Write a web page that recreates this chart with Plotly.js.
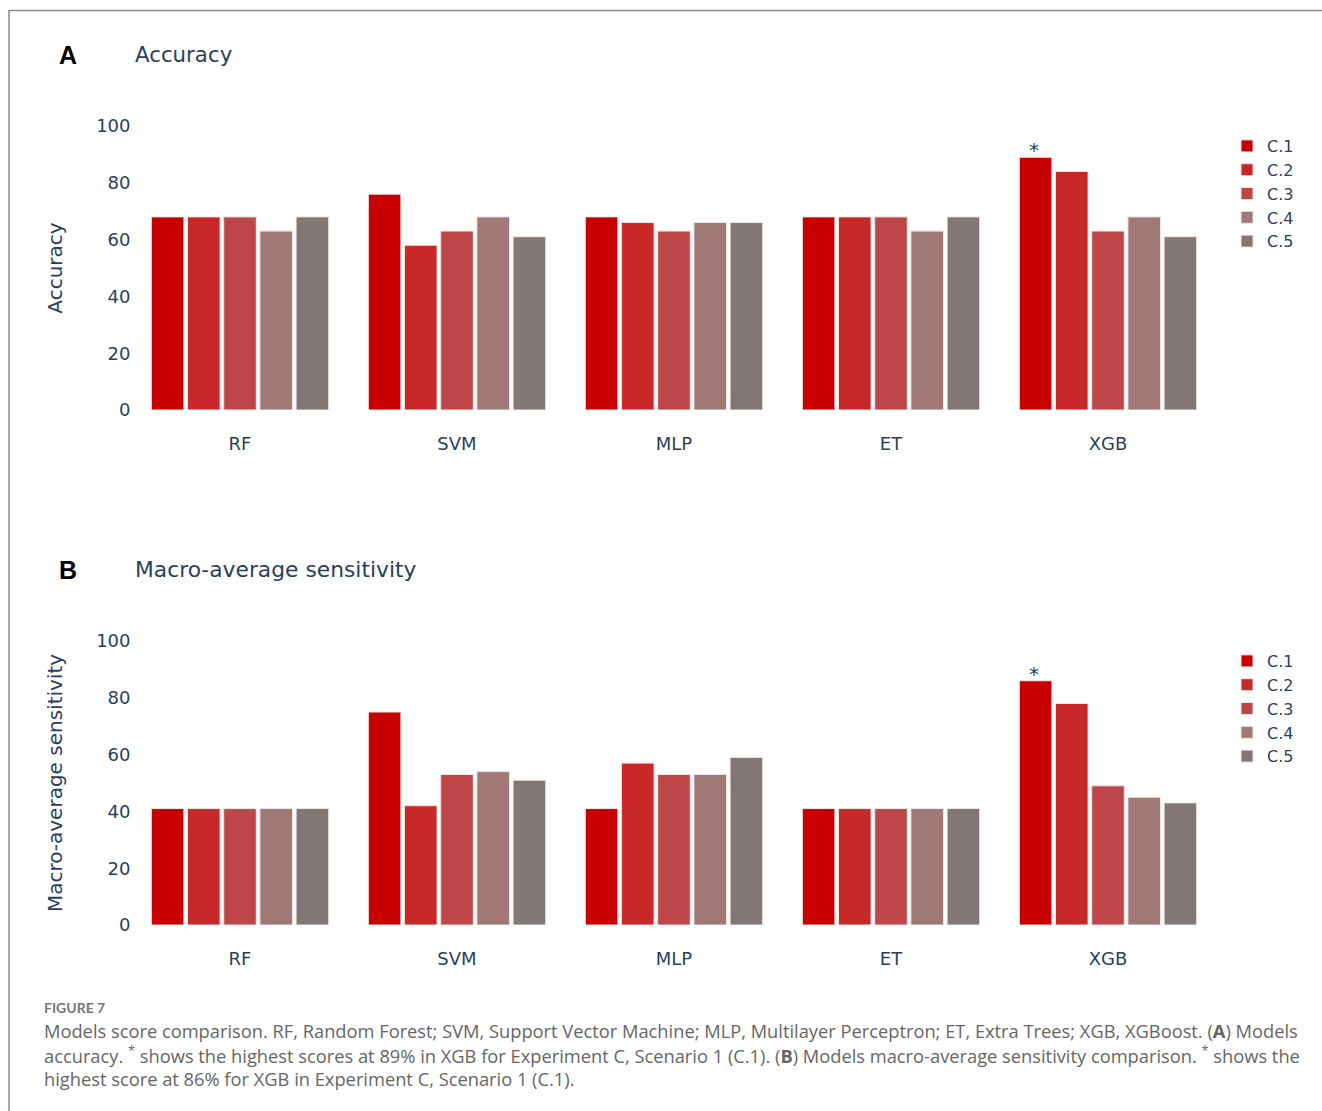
<!DOCTYPE html>
<html>
<head>
<meta charset="utf-8">
<script src="https://cdn.plot.ly/plotly-3.0.1.min.js"></script>
<style>
  html, body { margin: 0; padding: 0; background: #fff; }
  #chart { width: 1322px; height: 1111px; }
</style>
</head>
<body>
<div id="chart"></div>
<script>
// ---- data ----
const models = ['RF', 'SVM', 'MLP', 'ET', 'XGB'];
const seriesNames = ['C.1', 'C.2', 'C.3', 'C.4', 'C.5'];

const accC1 = [68, 76, 68, 68, 89];
const accC2 = [68, 58, 66, 68, 84];
const accC3 = [68, 63, 63, 68, 63];
const accC4 = [63, 68, 66, 63, 68];
const accC5 = [68, 61, 66, 68, 61];

const sensC1 = [41, 75, 41, 41, 86];
const sensC2 = [41, 42, 57, 41, 78];
const sensC3 = [41, 53, 53, 41, 49];
const sensC4 = [41, 54, 53, 41, 45];
const sensC5 = [41, 51, 59, 41, 43];

// the highlighted (starred) bar: model XGB, series C.1
const bestModel = 'XGB';
const bestSeriesIndex = 0;
const starText = '*';

const yTickVals = [0, 20, 40, 60, 80, 100];

// ---- styles ----
const colors = ['#c80000', '#c8282a', '#be4648', '#a07876', '#827775'];
const ink = '#2a3f5f';
const chartFont = 'DejaVu Sans, Verdana, sans-serif';
const W = 1322, H = 1111;
const px = v => v / W;
const py = v => 1 - v / H;
const bargap = 0.166;
const xDomain = [px(131.5), px(1216.5)];

const accSeries = [accC1, accC2, accC3, accC4, accC5];
const sensSeries = [sensC1, sensC2, sensC3, sensC4, sensC5];

const traces = [];
accSeries.forEach((vals, i) => {
  traces.push({
    type: 'bar', x: models, y: vals, name: seriesNames[i],
    xaxis: 'x', yaxis: 'y', legend: 'legend',
    marker: { color: colors[i], line: { color: '#eee4e4', width: 1 } },
    hoverinfo: 'skip'
  });
});
sensSeries.forEach((vals, i) => {
  traces.push({
    type: 'bar', x: models, y: vals, name: seriesNames[i],
    xaxis: 'x2', yaxis: 'y2', legend: 'legend2',
    marker: { color: colors[i], line: { color: '#eee4e4', width: 1 } },
    hoverinfo: 'skip'
  });
});

// offset of a series' bar within its category group, derived from layout settings
const catPx = (xDomain[1] - xDomain[0]) * W / models.length;
const slotPx = catPx * (1 - bargap) / seriesNames.length;
const seriesShift = (bestSeriesIndex - (seriesNames.length - 1) / 2) * slotPx;
const bestIdx = models.indexOf(bestModel);

const xCommon = {
  type: 'category', showgrid: false, zeroline: false, showline: false,
  ticks: 'outside', ticklen: 17, tickcolor: 'rgba(0,0,0,0)',
  tickfont: { size: 18, color: ink, family: chartFont },
  domain: xDomain
};
const yCommon = {
  range: [0, 100], tickvals: yTickVals, showgrid: false, zeroline: false, showline: false,
  tickfont: { size: 18, color: ink, family: chartFont }
};

const captionFont = { family: 'Open Sans, Lato, sans-serif', size: 18.3, color: '#666666' };

const layout = {
  width: W, height: H,
  margin: { l: 0, r: 0, t: 0, b: 0 },
  paper_bgcolor: '#ffffff', plot_bgcolor: '#ffffff',
  font: { family: chartFont, color: ink },
  barmode: 'group', bargap: bargap, bargroupgap: 0.1,
  xaxis: Object.assign({}, xCommon, { anchor: 'y' }),
  yaxis: Object.assign({}, yCommon, { anchor: 'x', domain: [py(410), py(126)],
    title: { text: 'Accuracy', font: { size: 20, color: ink, family: chartFont }, standoff: 28 } }),
  xaxis2: Object.assign({}, xCommon, { anchor: 'y2' }),
  yaxis2: Object.assign({}, yCommon, { anchor: 'x2', domain: [py(925), py(641)],
    title: { text: 'Macro-average sensitivity', font: { size: 20, color: ink, family: chartFont }, standoff: 28 } }),
  legend: { x: px(1227), y: py(129), xanchor: 'left', yanchor: 'top',
    font: { size: 16, color: ink, family: chartFont }, bgcolor: 'rgba(0,0,0,0)' },
  legend2: { x: px(1227), y: py(644), xanchor: 'left', yanchor: 'top',
    font: { size: 16, color: ink, family: chartFont }, bgcolor: 'rgba(0,0,0,0)' },
  shapes: [
    { type: 'line', xref: 'paper', yref: 'paper', x0: px(9), x1: 1, y0: py(10.5), y1: py(10.5),
      line: { color: '#8a8a8a', width: 1.5 } },
    { type: 'line', xref: 'paper', yref: 'paper', x0: px(9), x1: px(9), y0: py(10), y1: 0,
      line: { color: '#8a8a8a', width: 1.5 } }
  ],
  annotations: [
    { text: starText, xref: 'x', yref: 'y', x: bestModel, y: accSeries[bestSeriesIndex][bestIdx],
      xanchor: 'center', yanchor: 'bottom', xshift: seriesShift - 2, yshift: -7, showarrow: false,
      font: { family: chartFont, size: 20, color: ink } },
    { text: starText, xref: 'x2', yref: 'y2', x: bestModel, y: sensSeries[bestSeriesIndex][bestIdx],
      xanchor: 'center', yanchor: 'bottom', xshift: seriesShift - 2, yshift: -7, showarrow: false,
      font: { family: chartFont, size: 20, color: ink } },
    { text: '<b>A</b>', xref: 'paper', yref: 'paper', x: px(57), y: py(55), xanchor: 'left', yanchor: 'middle',
      showarrow: false, font: { family: 'Liberation Sans, Arial, sans-serif', size: 25, color: '#000' } },
    { text: 'Accuracy', xref: 'paper', yref: 'paper', x: px(133), y: py(54), xanchor: 'left', yanchor: 'middle',
      showarrow: false, font: { family: chartFont, size: 21.3, color: ink } },
    { text: '<b>B</b>', xref: 'paper', yref: 'paper', x: px(57), y: py(570), xanchor: 'left', yanchor: 'middle',
      showarrow: false, font: { family: 'Liberation Sans, Arial, sans-serif', size: 25, color: '#000' } },
    { text: 'Macro-average sensitivity', xref: 'paper', yref: 'paper', x: px(133), y: py(569), xanchor: 'left', yanchor: 'middle',
      showarrow: false, font: { family: chartFont, size: 21.8, color: ink } },
    { text: '<b>FIGURE 7</b>', xref: 'paper', yref: 'paper', x: px(42), y: py(1007), xanchor: 'left', yanchor: 'middle',
      showarrow: false, font: { family: 'Lato, Open Sans, sans-serif', size: 14, color: '#777777' } },
    { text: 'Models score comparison. RF, Random Forest; SVM, Support Vector Machine; MLP, Multilayer Perceptron; ET, Extra Trees; XGB, XGBoost. (<b>A</b>) Models',
      xref: 'paper', yref: 'paper', x: px(42), y: py(1030), xanchor: 'left', yanchor: 'middle', showarrow: false, font: captionFont },
    { text: 'accuracy. <sup>*</sup> shows the highest scores at 89% in XGB for Experiment C, Scenario 1 (C.1). (<b>B</b>) Models macro-average sensitivity comparison. <sup>*</sup> shows the',
      xref: 'paper', yref: 'paper', x: px(42), y: py(1054), xanchor: 'left', yanchor: 'middle', showarrow: false, font: captionFont },
    { text: 'highest score at 86% for XGB in Experiment C, Scenario 1 (C.1).',
      xref: 'paper', yref: 'paper', x: px(42), y: py(1078), xanchor: 'left', yanchor: 'middle', showarrow: false, font: captionFont }
  ]
};

Plotly.newPlot('chart', traces, layout, { displayModeBar: false, staticPlot: true });
</script>
</body>
</html>
